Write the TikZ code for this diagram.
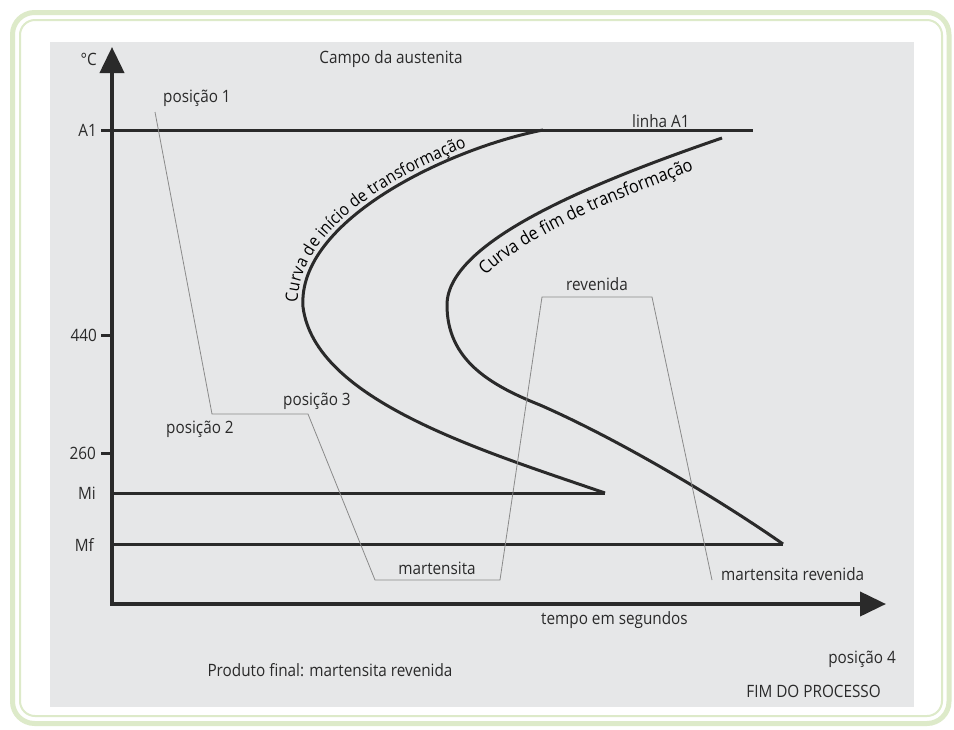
\documentclass[tikz,border=0pt]{standalone}
\usepackage{fontspec}
\setmainfont{Open Sans}[FakeStretch=0.9]
\usetikzlibrary{arrows.meta,decorations.text}

\definecolor{fundo}{HTML}{E6E7E8}
\definecolor{moldura}{HTML}{DDEAC9}
\definecolor{texto}{HTML}{2A2A2A}
\definecolor{traco}{HTML}{8A8A8A}
\newcommand{\rotulo}{\fontsize{17}{20}\selectfont}

\begin{document}
\begin{tikzpicture}[x=1pt, y=-1pt,
    rotulo/.style={font=\rotulo, text=texto, inner sep=0pt},
    eixo/.style={line width=4pt, texto, line join=miter,
        {Triangle[length=26pt, width=24pt]}-{Triangle[length=26pt, width=24pt]}},
    linha/.style={line width=3pt, texto},
    curva/.style={line width=3pt, texto},
    trajeto/.style={line width=0.8pt, traco}]
    \useasboundingbox (0,0) rectangle (954,729);
    \fill[white] (0,0) rectangle (954,729);

    % Moldura
    \draw[moldura, line width=5pt, rounded corners=22pt] (12.5,12.5) rectangle (949,723.5);
    \draw[moldura, line width=2pt, rounded corners=15pt] (20,20) rectangle (942,716);
    \fill[fundo] (50,42) rectangle (914,707);

    % Eixos
    \draw[eixo] (112,47) -- (112,604) -- (886,604);
    \node[rotulo, anchor=base east] (grau) at (97,65) {°C};
    \node[rotulo, anchor=base west] (tempo) at (541,624) {tempo em segundos};

    % Temperaturas
    \draw[linha] (101,130) -- (112,130);
    \draw[linha] (101,335) -- (112,335);
    \draw[linha] (101,453) -- (112,453);
    \node[rotulo, anchor=east] (a1) at (97,130) {A1};
    \node[rotulo, anchor=east] (t440) at (97,335) {440};
    \node[rotulo, anchor=east] (t260) at (96,453) {260};
    \node[rotulo, anchor=east] (mi) at (96,493) {Mi};
    \node[rotulo, anchor=east] (mf) at (94,545) {Mf};

    % Linhas A1, Mi e Mf
    \draw[linha] (112,130) -- (753,130);
    \draw[linha] (112,493) -- (605,493);
    \draw[linha] (112,544) -- (783,544);
    \node[rotulo, anchor=base west] (linhaA1) at (632,127) {linha A1};

    % Curva de inicio
    \draw[curva] (543,130) .. controls (450,148) and (297,220) .. (303,307)
        .. controls (315,400) and (480,450) .. (605,493);
    \path[decorate, decoration={text along path, raise=5pt,
        text={|\rotulo|Curva de início de transformação},
        text align={left indent=4pt}}]
        (303,307) .. controls (297,220) and (450,148) .. (543,130);

    % Curva de fim
    \draw[curva] (722,138) .. controls (600,180) and (447,240) .. (447,305)
        .. controls (447,360) and (490,385) .. (540,405)
        .. controls (620,440) and (720,500) .. (783,544);
    \path[decorate, decoration={text along path,
        text={|\fontsize{18}{21}\selectfont|Curva de fim de transformação},
        text align={left indent=55pt}}]
        (460,323) .. controls (460,258) and (613,198) .. (735,156);

    % Tratamento
    \draw[trajeto] (155,112) -- (212,414) -- (308,414) -- (375,580)
        -- (500,580) -- (542,297) -- (652,297) -- (712,580);
    \node[rotulo, anchor=base] (campo) at (391,63) {Campo da austenita};
    \node[rotulo, anchor=base west] (pos1) at (163,102) {posição 1};
    \node[rotulo, anchor=base west] (pos2) at (166,433) {posição 2};
    \node[rotulo, anchor=base west] (pos3) at (283,405) {posição 3};
    \node[rotulo, anchor=base] (mart) at (437,574) {martensita};
    \node[rotulo, anchor=base] (reven) at (597,290) {revenida};
    \node[rotulo, anchor=base west] (martrev) at (721,580) {martensita revenida};

    % Fim
    \node[rotulo, anchor=base] (produto) at (330,676) {Produto final: martensita revenida};
    \node[rotulo, anchor=base east] (pos4) at (896,663) {posição 4};
    \node[rotulo, anchor=base east] (fim) at (881,697) {FIM DO PROCESSO};

\end{tikzpicture}
\end{document}
